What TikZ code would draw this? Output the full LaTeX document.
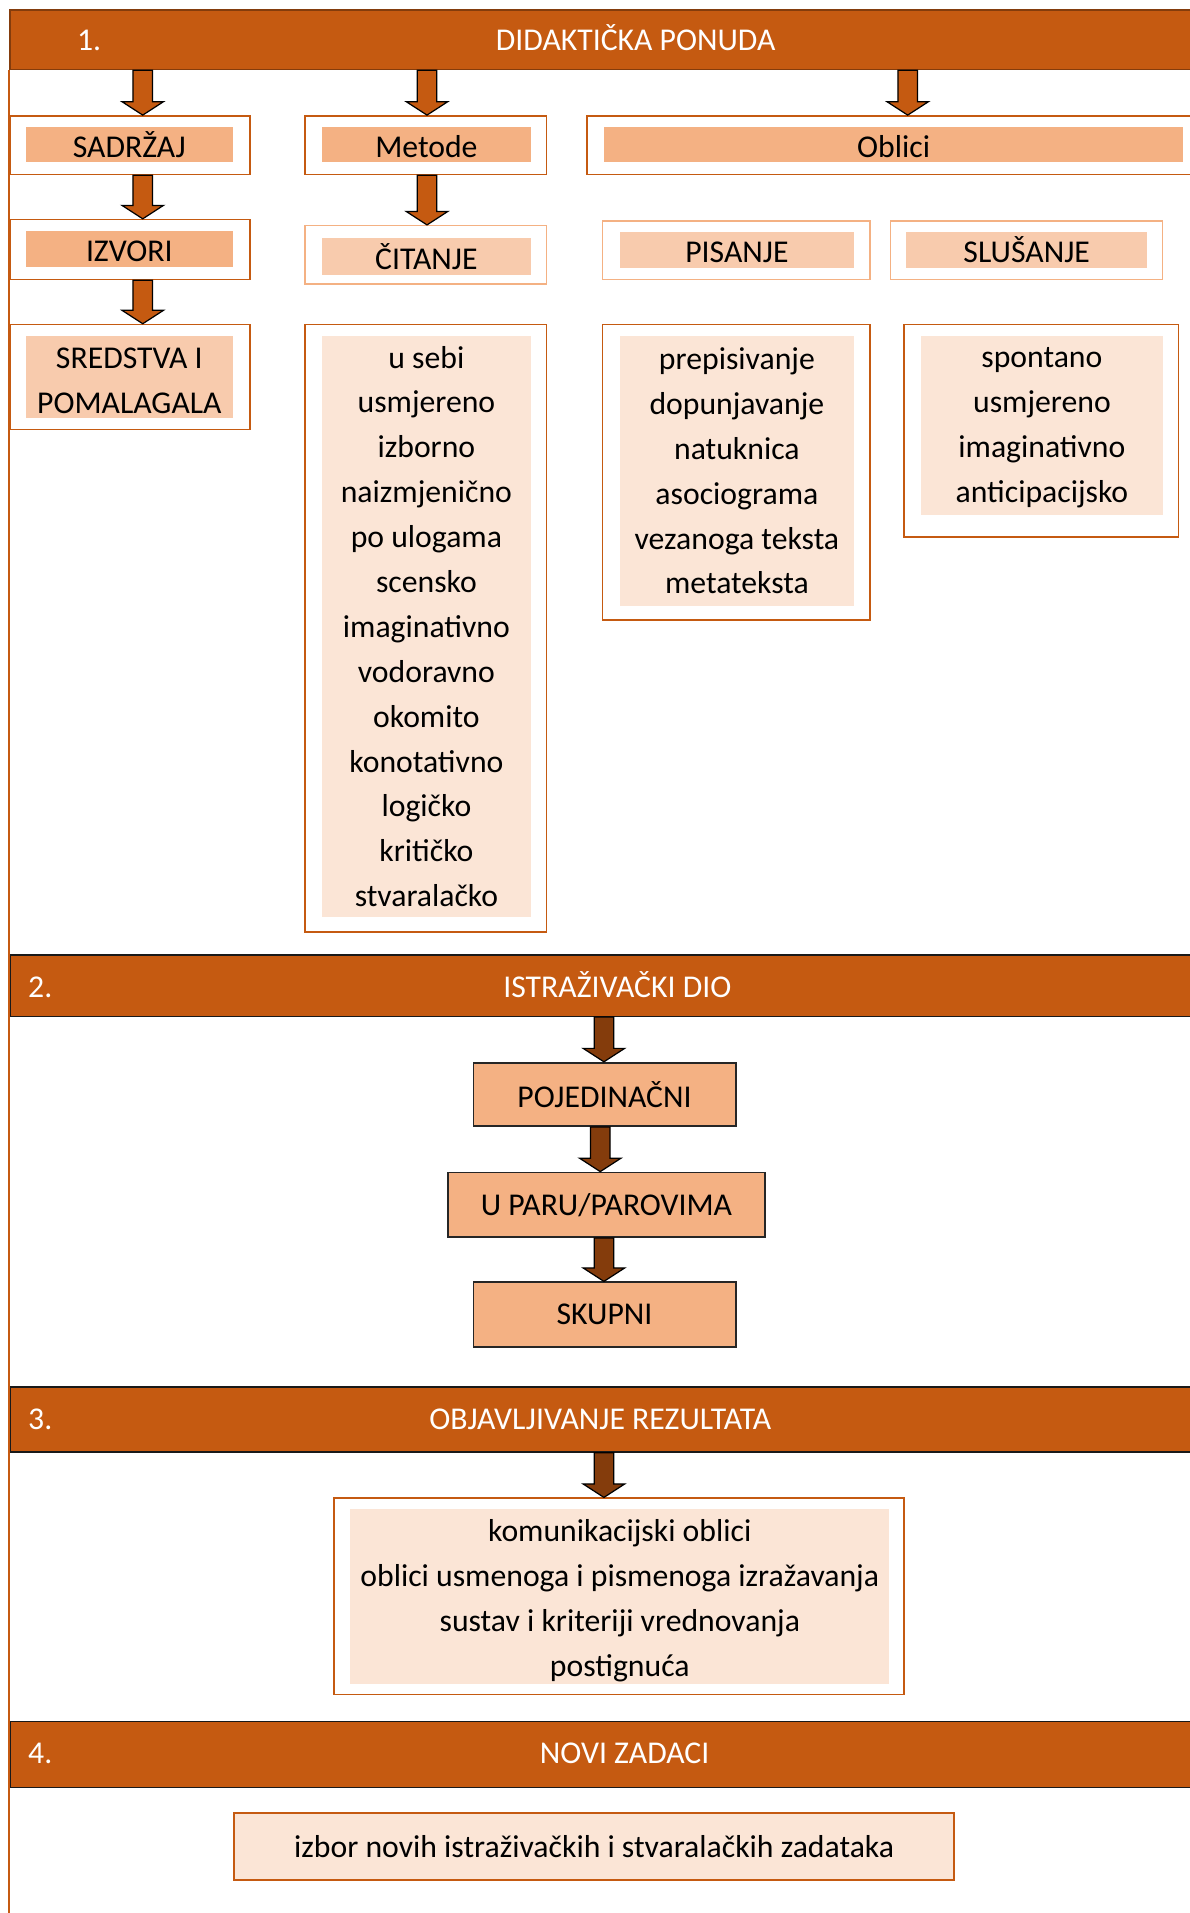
\documentclass[tikz,border=0pt]{standalone}
\usepackage{fontspec}
\setmainfont{Carlito}
\usetikzlibrary{calc}
\definecolor{dorange}{HTML}{C55A11}
\definecolor{dbrown}{HTML}{843C0C}
\definecolor{peachA}{HTML}{F4B183}
\definecolor{peachB}{HTML}{F8CBAD}
\definecolor{peachC}{HTML}{FBE5D6}
\newcommand\bodyfont{\fontsize{26pt}{36.8pt}\selectfont}
\newcommand\mybox[6]{\node[#2,minimum width={(#5-#3)*1pt},minimum height={(#6-#4)*1pt}] (#1) at ({(#3+#5)/2},{(#4+#6)/2})}
\newcommand\blockarrow[3]{\draw[#3] let \p1=(#1), \p2=(#2) in
  (\x1-8pt,\y1) -- (\x1+8pt,\y1) -- (\x1+8pt,\y2+11pt) -- (\x1+17pt,\y2+11pt) -- (\x1,\y2)
  -- (\x1-17pt,\y2+11pt) -- (\x1-8pt,\y2+11pt) -- cycle;}
\tikzset{
  outerbox/.style={draw=dorange, line width=1.3pt, inner sep=0pt},
  outerlight/.style={draw=peachA, line width=1.3pt, inner sep=0pt},
  fillA/.style={fill=peachA, inner sep=0pt, align=center, font=\bodyfont},
  fillB/.style={fill=peachB, inner sep=0pt, align=center, font=\bodyfont},
  fillC/.style={fill=peachC, inner sep=0pt, align=center, font=\bodyfont},
  oneline/.style={text height=21pt, text depth=0pt},
  headbar/.style={fill=dorange, draw=black!90, line width=1.3pt, inner sep=0pt},
  headtext/.style={text=white, font=\bodyfont, inner sep=0pt, text height=16.7pt, text depth=0pt},
  flowbox/.style={fill=peachA, draw=black!85, line width=1.4pt, inner sep=0pt, font=\bodyfont},
  newbox/.style={fill=peachC, draw=dorange, line width=1.4pt, inner sep=0pt, font=\bodyfont},
  oarrow/.style={fill=dorange, draw=black, line width=1pt, line join=miter},
  darrow/.style={fill=dbrown, draw=black, line width=1pt, line join=miter}
}
\begin{document}
\begin{tikzpicture}[x=1pt,y=-1pt]
\useasboundingbox (0,0) rectangle (975,1568);
\fill[white] (0,0) rectangle (975,1568);
\coordinate (bottom) at (0,1568);
\coordinate (cx1) at (117,0);
\coordinate (cx2) at (350,0);
\coordinate (cx3) at (744,0);
\coordinate (cx4) at (495,0);
\coordinate (cx5) at (492,0);

% headers
\mybox{h1}{headbar,draw=dbrown}{8}{8}{990}{57} {};
\mybox{h2}{headbar}{8}{783}{990}{833} {};
\mybox{h3}{headbar}{8}{1137}{990}{1190} {};
\mybox{h4}{headbar}{8}{1411}{990}{1465} {};
\draw[dorange, line width=1.3pt] (h1.south west) -- (h1.south west |- bottom);
\node[headtext] (n1) at (73,33) {1.};
\node[headtext] (t1) at (521,33) {DIDAKTIČKA PONUDA};
\node[headtext] (n2) at (33,809) {2.};
\node[headtext] (t2) at (506,809) {ISTRAŽIVAČKI DIO};
\node[headtext] (n3) at (33,1163) {3.};
\node[headtext] (t3) at (492,1163) {OBJAVLJIVANJE REZULTATA};
\node[headtext] (n4) at (33,1437) {4.};
\node[headtext] (t4) at (512,1437) {NOVI ZADACI};

% section 1
\mybox{sadrzajO}{outerbox}{8}{95}{205}{143} {};
\mybox{sadrzaj}{fillA,oneline}{21}{104}{191}{133} {SADRŽAJ};
\mybox{metodeO}{outerbox}{250}{95}{448}{143} {};
\mybox{metode}{fillA,oneline}{264}{104}{435}{133} {Metode};
\mybox{obliciO}{outerbox}{481}{95}{990}{143} {};
\mybox{oblici}{fillA,oneline}{495}{104}{970}{133} {Oblici};

\mybox{izvoriO}{outerbox}{8}{180}{205}{229} {};
\mybox{izvori}{fillA,oneline}{21}{189}{191}{219} {IZVORI};
\mybox{sredO}{outerbox}{8}{266}{205}{352} {};
\mybox{sred}{fillB}{21}{275}{191}{343} {};
\node[font=\bodyfont, align=center, inner sep=0pt, yshift=-3pt] (sredt) at (sred) {SREDSTVA I\\POMALAGALA};

\mybox{citO}{outerlight}{250}{185}{448}{233} {};
\mybox{cit}{fillB,oneline}{264}{195}{435}{225} {ČITANJE};
\mybox{pisO}{outerlight}{494}{181}{713}{229} {};
\mybox{pis}{fillB,oneline}{508}{190}{700}{220} {PISANJE};
\mybox{sluO}{outerlight}{730}{181}{953}{229} {};
\mybox{slu}{fillB,oneline}{743}{190}{940}{220} {SLUŠANJE};

\mybox{metlistO}{outerbox}{250}{266}{448}{764} {};
\mybox{metlist}{fillC}{264}{275}{435}{752} {u sebi\\usmjereno\\izborno\\naizmjenično\\po ulogama\\scensko\\imaginativno\\vodoravno\\okomito\\konotativno\\logičko\\kritičko\\stvaralačko};
\mybox{pislistO}{outerbox}{494}{266}{713}{508} {};
\mybox{pislist}{fillC}{508}{275}{700}{497} {prepisivanje\\dopunjavanje\\natuknica\\asociograma\\vezanoga teksta\\metateksta};
\mybox{slulistO}{outerbox}{741}{266}{966}{440} {};
\mybox{slulist}{fillC}{755}{275}{953}{422} {};
\node[font=\bodyfont, align=center, inner sep=0pt, yshift=-2pt] (slulistt) at (slulist) {spontano\\usmjereno\\imaginativno\\anticipacijsko};

% section 2
\mybox{poj}{flowbox}{388}{871}{603}{923} {POJEDINAČNI};
\mybox{par}{flowbox}{367}{961}{627}{1014} {U PARU/PAROVIMA};
\mybox{skup}{flowbox}{388}{1051}{603}{1104} {SKUPNI};

% section 3
\mybox{rezO}{outerbox}{274}{1228}{741}{1389} {};
\mybox{rez}{fillC}{287}{1237}{729}{1380} {};
\node[font=\bodyfont, align=center, inner sep=0pt, yshift=-3.5pt] (rezt) at (rez) {komunikacijski oblici\\oblici usmenoga i pismenoga izražavanja\\sustav i kriteriji vrednovanja\\postignuća};

% section 4
\mybox{novi}{newbox}{192}{1486}{782}{1541} {izbor novih istraživačkih i stvaralačkih zadataka};

% arrows
\blockarrow{h1.south -| cx1}{sadrzajO.north -| cx1}{oarrow}
\blockarrow{h1.south -| cx2}{metodeO.north -| cx2}{oarrow}
\blockarrow{h1.south -| cx3}{obliciO.north -| cx3}{oarrow}
\blockarrow{sadrzajO.south -| cx1}{izvoriO.north -| cx1}{oarrow}
\blockarrow{izvoriO.south -| cx1}{sredO.north -| cx1}{oarrow}
\blockarrow{metodeO.south -| cx2}{citO.north -| cx2}{oarrow}
\blockarrow{h2.south -| cx4}{poj.north -| cx4}{darrow}
\blockarrow{poj.south -| cx5}{par.north -| cx5}{darrow}
\blockarrow{par.south -| cx4}{skup.north -| cx4}{darrow}
\blockarrow{h3.south -| cx4}{rezO.north -| cx4}{darrow}
\end{tikzpicture}
\end{document}
